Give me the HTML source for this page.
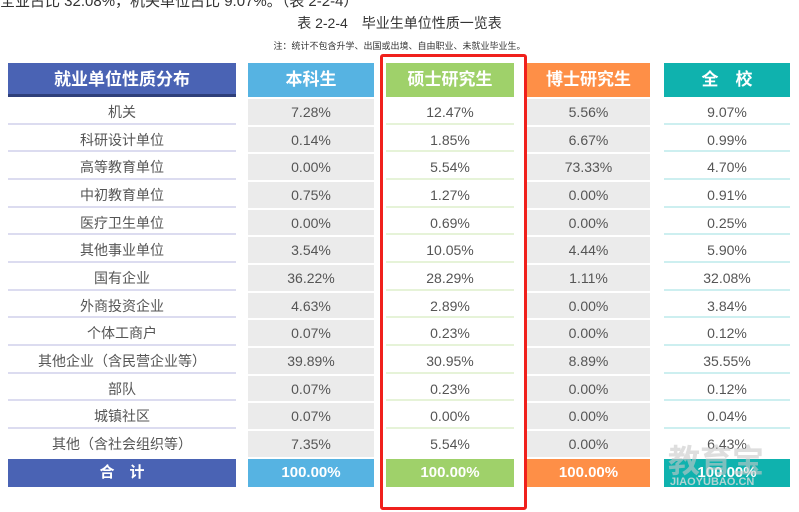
<!DOCTYPE html>
<html><head><meta charset="utf-8"><style>
body{margin:0;width:799px;height:512px;background:#fff;overflow:hidden;position:relative;font-family:"Liberation Sans","Noto Sans CJK SC",sans-serif;color:#555}
.a{position:absolute}
.col{position:absolute;top:63px}
.h{height:34px;line-height:34px;text-align:center;color:#fff;font-weight:bold;font-size:17px}
.c{height:25.67px;line-height:27px;text-align:center;font-size:14px;margin-top:2px}
.t{height:28px;line-height:28px;text-align:center;color:#fff;font-weight:bold;font-size:15px;margin-top:2px}
.g .c{background:#ebebeb}
.l1 .c,.l2 .c,.l3 .c{margin-top:0;padding-top:2px;height:23.67px}
.l1 .c{border-bottom:2px solid #dcdcf0}
.l2 .c{border-bottom:2px solid #e6f3d8}
.l3 .c{border-bottom:2px solid #cdeff0}
</style></head><body>
<div class="a" style="left:0;top:-10px;font-size:15px;color:#333">全业占比 32.08%，机关单位占比 9.07%。（表 2-2-4）</div>
<div class="a" style="left:0;width:799px;top:13px;text-align:center;font-size:14px;color:#333">表 2-2-4　毕业生单位性质一览表</div>
<div class="a" style="left:0;width:799px;top:39px;text-align:center;font-size:9px;color:#333">注：统计不包含升学、出国或出境、自由职业、未就业毕业生。</div>

<div class="col l1" style="left:8px;width:228px">
<div class="h" style="background:#4a63b4;border-bottom:3px solid #2e3f7a;height:31px;line-height:34px">就业单位性质分布</div>
<div class="c">机关</div><div class="c">科研设计单位</div><div class="c">高等教育单位</div><div class="c">中初教育单位</div><div class="c">医疗卫生单位</div><div class="c">其他事业单位</div><div class="c">国有企业</div><div class="c">外商投资企业</div><div class="c">个体工商户</div><div class="c">其他企业（含民营企业等）</div><div class="c">部队</div><div class="c">城镇社区</div><div class="c" style="border:none">其他（含社会组织等）</div>
<div class="t" style="background:#4a63b4;margin-top:4px">合　计</div>
</div>

<div class="col g" style="left:248px;width:126px">
<div class="h" style="background:#56b3e2">本科生</div>
<div class="c">7.28%</div><div class="c">0.14%</div><div class="c">0.00%</div><div class="c">0.75%</div><div class="c">0.00%</div><div class="c">3.54%</div><div class="c">36.22%</div><div class="c">4.63%</div><div class="c">0.07%</div><div class="c">39.89%</div><div class="c">0.07%</div><div class="c">0.07%</div><div class="c">7.35%</div>
<div class="t" style="background:#56b3e2">100.00%</div>
</div>

<div class="col l2" style="left:386px;width:128px">
<div class="h" style="background:#9fd16a">硕士研究生</div>
<div class="c">12.47%</div><div class="c">1.85%</div><div class="c">5.54%</div><div class="c">1.27%</div><div class="c">0.69%</div><div class="c">10.05%</div><div class="c">28.29%</div><div class="c">2.89%</div><div class="c">0.23%</div><div class="c">30.95%</div><div class="c">0.23%</div><div class="c">0.00%</div><div class="c" style="border:none">5.54%</div>
<div class="t" style="background:#9fd16a;margin-top:4px">100.00%</div>
</div>

<div class="col g" style="left:527px;width:123px">
<div class="h" style="background:#fe8f47">博士研究生</div>
<div class="c">5.56%</div><div class="c">6.67%</div><div class="c">73.33%</div><div class="c">0.00%</div><div class="c">0.00%</div><div class="c">4.44%</div><div class="c">1.11%</div><div class="c">0.00%</div><div class="c">0.00%</div><div class="c">8.89%</div><div class="c">0.00%</div><div class="c">0.00%</div><div class="c">0.00%</div>
<div class="t" style="background:#fe8f47">100.00%</div>
</div>

<div class="col l3" style="left:664px;width:126px">
<div class="h" style="background:#0fb2ae">全　校</div>
<div class="c">9.07%</div><div class="c">0.99%</div><div class="c">4.70%</div><div class="c">0.91%</div><div class="c">0.25%</div><div class="c">5.90%</div><div class="c">32.08%</div><div class="c">3.84%</div><div class="c">0.12%</div><div class="c">35.55%</div><div class="c">0.12%</div><div class="c">0.04%</div><div class="c" style="border:none">6.43%</div>
<div class="t" style="background:#0fb2ae;margin-top:4px">100.00%</div>
</div>

<div class="a" style="left:380px;top:54px;width:141px;height:450px;border:3px solid #f0201c;border-radius:3px"></div>
<div class="a" style="left:668px;top:436px;font-size:32px;font-weight:bold;color:rgba(200,200,200,0.6)">教育宝</div>
<div class="a" style="left:670px;top:476px;font-size:11px;font-weight:bold;color:rgba(220,220,220,0.8)">JIAOYUBAO.CN</div>
</body></html>
